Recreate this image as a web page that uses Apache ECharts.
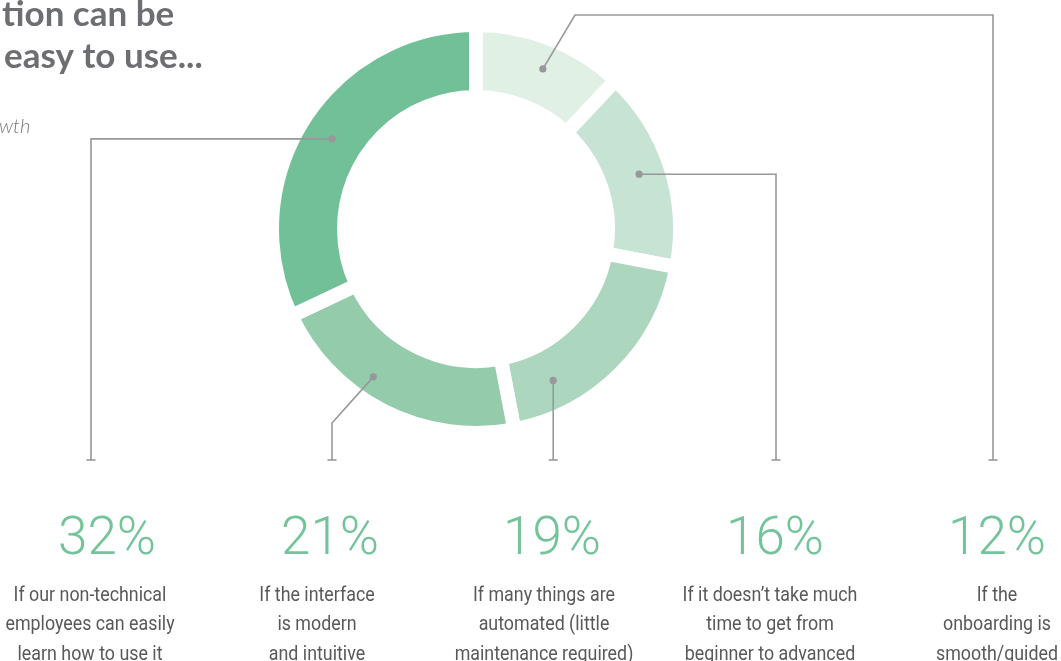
<!DOCTYPE html>
<html><head><meta charset="utf-8">
<script src="https://cdn.jsdelivr.net/npm/echarts@6/dist/echarts.min.js"></script>
<style>html,body{margin:0;padding:0;background:#fff;overflow:hidden}#c{width:1061px;height:661px}</style>
</head><body><div id="c"></div>
<script>
// ---- data (pie order: clockwise from 12 o'clock) ----
const categories = [
  "If the\nonboarding is\nsmooth/guided",
  "If it doesn\u2019t take much\ntime to get from\nbeginner to advanced",
  "If many things are\nautomated (little\nmaintenance required)",
  "If the interface\nis modern\nand intuitive",
  "If our non-technical\nemployees can easily\nlearn how to use it"
];
const values = [12, 16, 19, 21, 32];
const colors = ['#e0f0e5', '#c6e3d3', '#acd7be', '#93cbab', '#72c098'];
const titleLines = ["tion can be", "easy to use..."];
const subtitle = "wth";

// ---- layout (annotation geometry, not data) ----
const leader = [
  { frac: 0.525, rad: 0.576, col: 993, numX: 997, descX: 997, via: [[575, 15], [993, 15]] },
  { frac: 0.49,  rad: 0.556, col: 776, numX: 775, descX: 770, via: 'h' },
  { frac: 0.763, rad: 0.528, col: null, numX: 552, descX: 544, via: 'v' },
  { frac: 0.603, rad: 0.667, col: 332, numX: 330, descX: 317, via: [[332, 423]] },
  { frac: 0.497, rad: 0.525, col: 91,  numX: 107, descX: 90,  via: 'h' }
];
const LINE_END = 460;
const LINE_COLOR = '#97989b';
const GREEN_TEXT = '#74c49a';

const chart = echarts.init(document.getElementById('c'), null, { renderer: 'canvas' });
chart.setOption({
  animation: false,
  backgroundColor: '#ffffff',
  series: [{
    type: 'pie',
    center: [476, 229],
    radius: [132, 204],
    startAngle: 90,
    clockwise: true,
    silent: true,
    label: { show: false },
    labelLine: { show: false },
    emphasis: { disabled: true },
    itemStyle: { borderColor: '#ffffff', borderWidth: 14 },
    data: values.map((v, i) => ({ value: v, name: categories[i], itemStyle: { color: colors[i] } }))
  }]
});

const pieData = chart.getModel().getSeriesByIndex(0).getData();
const elements = [];
values.forEach((v, i) => {
  const L = pieData.getItemLayout(i);
  const cfg = leader[i];
  const a = L.startAngle + cfg.frac * (L.endAngle - L.startAngle);
  const r = L.r0 + cfg.rad * (L.r - L.r0);
  const dx = L.cx + r * Math.cos(a), dy = L.cy + r * Math.sin(a);
  let pts = [[dx, dy]];
  let col;
  if (cfg.via === 'h') { col = cfg.col; pts.push([col, dy]); }
  else if (cfg.via === 'v') { col = dx; }
  else { col = cfg.col; cfg.via.forEach(p => pts.push(p)); }
  pts.push([col, LINE_END]);
  elements.push({ type: 'polyline', silent: true, shape: { points: pts },
    style: { stroke: LINE_COLOR, lineWidth: 1.6, fill: null }, z: 10 });
  elements.push({ type: 'line', silent: true, shape: { x1: col - 4.5, y1: LINE_END, x2: col + 4.5, y2: LINE_END },
    style: { stroke: LINE_COLOR, lineWidth: 1.6 }, z: 10 });
  elements.push({ type: 'circle', silent: true, shape: { cx: dx, cy: dy, r: 3.6 },
    style: { fill: LINE_COLOR }, z: 11 });
  elements.push({ type: 'text', silent: true, x: cfg.numX, y: 541,
    style: { text: v + '%', fill: GREEN_TEXT, font: '300 53px Roboto, Lato, sans-serif',
      textAlign: 'center', textVerticalAlign: 'middle' } });
  elements.push({ type: 'text', silent: true, x: cfg.descX, y: 581, scaleX: 0.87,
    style: { text: categories[i], fill: '#58595b', fontFamily: 'Roboto, sans-serif',
      fontSize: 20.5, lineHeight: 29.5, align: 'center', verticalAlign: 'top' } });
});
titleLines.forEach((t, k) => {
  elements.push({ type: 'text', silent: true, x: 2 + k * 2, y: 15 + k * 42,
    style: { text: t, fill: '#6d6e71', fontFamily: 'Lato, sans-serif', fontWeight: 'bold', fontSize: 35,
      align: 'left', verticalAlign: 'middle' } });
});
elements.push({ type: 'text', silent: true, x: -1, y: 127,
  style: { text: subtitle, fill: '#77787b', fontFamily: 'Lato, sans-serif', fontStyle: 'italic', fontWeight: 300, fontSize: 20,
    align: 'left', verticalAlign: 'middle' } });

chart.setOption({ graphic: { elements: elements } });
</script>
</body></html>
